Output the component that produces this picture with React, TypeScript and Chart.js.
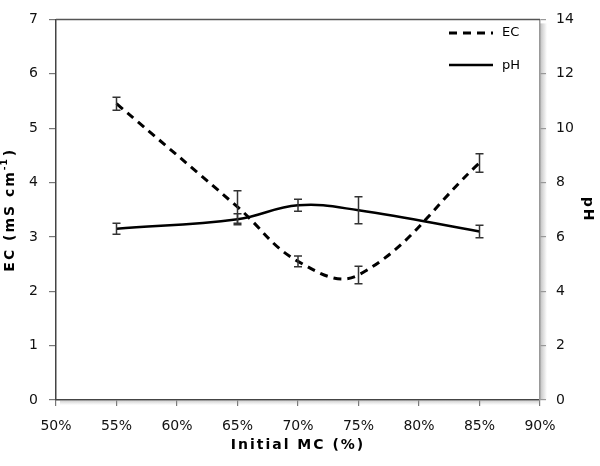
import React, { useEffect, useRef } from "react";
import { Chart, registerables } from "chart.js";

Chart.register(...registerables);

const mcLevels = [55, 65, 70, 75, 85];
const ecValues = [5.45, 3.55, 2.55, 2.3, 4.36];
const ecErrors = [0.12, 0.3, 0.1, 0.16, 0.17];
const phValues = [6.3, 6.65, 7.16, 6.98, 6.2];
const phErrors = [0.2, 0.2, 0.22, 0.5, 0.23];
const xTickMin = 50;
const xTickMax = 90;

const FONT = "'DejaVu Sans', Verdana, sans-serif";

const errorBarPlugin = {
  id: "errorBars",
  afterDatasetsDraw(chart: any) {
    const ctx = chart.ctx;
    const x = chart.scales.x;
    const sets = [
      { scale: chart.scales.yEC, vals: ecValues, errs: ecErrors },
      { scale: chart.scales.yPH, vals: phValues, errs: phErrors },
    ];
    ctx.save();
    ctx.strokeStyle = "#333";
    ctx.lineWidth = 1.5;
    sets.forEach((s) => {
      s.vals.forEach((v, i) => {
        const px = x.getPixelForValue(mcLevels[i]);
        const top = s.scale.getPixelForValue(v + s.errs[i]);
        const bot = s.scale.getPixelForValue(v - s.errs[i]);
        ctx.beginPath();
        ctx.moveTo(px, top);
        ctx.lineTo(px, bot);
        ctx.moveTo(px - 4, top);
        ctx.lineTo(px + 4, top);
        ctx.moveTo(px - 4, bot);
        ctx.lineTo(px + 4, bot);
        ctx.stroke();
      });
    });
    ctx.restore();
  },
};

const decorPlugin = {
  id: "decor",
  beforeDatasetsDraw(chart: any) {
    const ctx = chart.ctx;
    const a = chart.chartArea;
    ctx.save();
    const g = ctx.createLinearGradient(a.right, 0, a.right + 7, 0);
    g.addColorStop(0, "rgba(150,150,150,0.6)");
    g.addColorStop(1, "rgba(150,150,150,0)");
    ctx.fillStyle = g;
    ctx.fillRect(a.right, a.top + 4, 7, a.bottom - a.top - 4);
    const g2 = ctx.createLinearGradient(0, a.bottom, 0, a.bottom + 5);
    g2.addColorStop(0, "rgba(150,150,150,0.5)");
    g2.addColorStop(1, "rgba(150,150,150,0)");
    ctx.fillStyle = g2;
    ctx.fillRect(a.left + 4, a.bottom, a.right - a.left - 4, 5);
    ctx.strokeStyle = "#555";
    ctx.lineWidth = 1.5;
    ctx.beginPath();
    ctx.moveTo(a.left, a.top);
    ctx.lineTo(a.right, a.top);
    ctx.stroke();
    ctx.restore();
  },
  afterDraw(chart: any) {
    const ctx = chart.ctx;
    const a = chart.chartArea;
    ctx.save();
    ctx.strokeStyle = "#000";
    ctx.lineWidth = 3;
    ctx.setLineDash([8, 6]);
    ctx.beginPath();
    ctx.moveTo(449, 33);
    ctx.lineTo(493, 33);
    ctx.stroke();
    ctx.setLineDash([]);
    ctx.lineWidth = 2.5;
    ctx.beginPath();
    ctx.moveTo(449, 65);
    ctx.lineTo(493, 65);
    ctx.stroke();
    ctx.fillStyle = "#000";
    ctx.font = `13px ${FONT}`;
    ctx.textBaseline = "middle";
    ctx.textAlign = "left";
    ctx.fillText("EC", 502, 33);
    ctx.fillText("pH", 502, 66);

    ctx.font = `bold 14px ${FONT}`;
    (ctx as any).letterSpacing = "2px";
    ctx.textAlign = "center";
    ctx.fillText("Initial MC (%)", (a.left + a.right) / 2, 445);

    ctx.save();
    ctx.translate(588, (a.top + a.bottom) / 2);
    ctx.rotate(Math.PI / 2);
    ctx.fillText("pH", 0, 0);
    ctx.restore();

    ctx.save();
    ctx.translate(10, (a.top + a.bottom) / 2);
    ctx.rotate(-Math.PI / 2);
    ctx.textAlign = "left";
    const main = "EC (mS cm";
    const sup = "-1";
    const end = ")";
    ctx.font = `bold 14px ${FONT}`;
    const w1 = ctx.measureText(main).width;
    const w3 = ctx.measureText(end).width;
    ctx.font = `bold 9px ${FONT}`;
    const w2 = ctx.measureText(sup).width;
    const total = w1 + w2 + w3;
    let cx = -total / 2;
    ctx.font = `bold 14px ${FONT}`;
    ctx.fillText(main, cx, 0);
    cx += w1;
    ctx.font = `bold 9px ${FONT}`;
    (ctx as any).letterSpacing = "1px";
    ctx.fillText(sup, cx, -5);
    cx += w2;
    (ctx as any).letterSpacing = "2px";
    ctx.font = `bold 14px ${FONT}`;
    ctx.fillText(end, cx, 0);
    ctx.restore();

    ctx.restore();
  },
};

export default function App() {
  const ref = useRef<HTMLCanvasElement | null>(null);
  useEffect(() => {
    if (!ref.current) return;
    const chart = new Chart(ref.current, {
      type: "line",
      data: {
        datasets: [
          {
            label: "EC",
            data: mcLevels.map((x, i) => ({ x, y: ecValues[i] })),
            yAxisID: "yEC",
            borderColor: "#000",
            borderWidth: 3,
            borderDash: [8, 6],
            pointRadius: 0,
            tension: 0.4,
            fill: false,
          },
          {
            label: "pH",
            data: mcLevels.map((x, i) => ({ x, y: phValues[i] })),
            yAxisID: "yPH",
            borderColor: "#000",
            borderWidth: 2.5,
            pointRadius: 0,
            tension: 0.4,
            fill: false,
          },
        ],
      },
      options: {
        responsive: false,
        animation: false,
        layout: { padding: { top: 6, left: 0, right: 0, bottom: 0 } },
        plugins: { legend: { display: false }, tooltip: { enabled: false } },
        scales: {
          x: {
            type: "linear",
            position: "bottom",
            min: xTickMin,
            max: xTickMax,
            ticks: {
              stepSize: 5,
              callback: (v: any) => v + "%",
              color: "#111",
              font: { family: FONT, size: 14 },
              padding: 12,
              maxRotation: 0,
            },
            grid: { drawOnChartArea: false, drawTicks: true, tickLength: 6, color: "#777", lineWidth: 1.2 },
            border: { display: true, color: "#444", width: 1.5 },
            afterFit: (s: any) => {
              s.height = 66;
            },
          },
          yEC: {
            type: "linear",
            position: "left",
            min: 0,
            max: 7,
            ticks: {
              stepSize: 1,
              color: "#111",
              font: { family: FONT, size: 14 },
              padding: 11,
            },
            grid: { drawOnChartArea: false, drawTicks: true, tickLength: 7, color: "#777", lineWidth: 1.2 },
            border: { display: true, color: "#444", width: 1.5 },
            afterFit: (s: any) => {
              s.width = 56;
            },
          },
          yPH: {
            type: "linear",
            position: "right",
            min: 0,
            max: 14,
            ticks: {
              stepSize: 2,
              color: "#111",
              font: { family: FONT, size: 14 },
              padding: 10,
            },
            grid: { drawOnChartArea: false, drawTicks: true, tickLength: 6, color: "#999", lineWidth: 1.2 },
            border: { display: true, color: "#999", width: 1.5 },
            afterFit: (s: any) => {
              s.width = 60;
            },
          },
        },
      },
      plugins: [decorPlugin, errorBarPlugin],
    } as any);
    return () => chart.destroy();
  }, []);
  return (
    <div style={{ position: "fixed", left: 0, top: 0, width: 600, height: 466, background: "#fff" }}>
      <canvas ref={ref} width={600} height={466} />
    </div>
  );
}
